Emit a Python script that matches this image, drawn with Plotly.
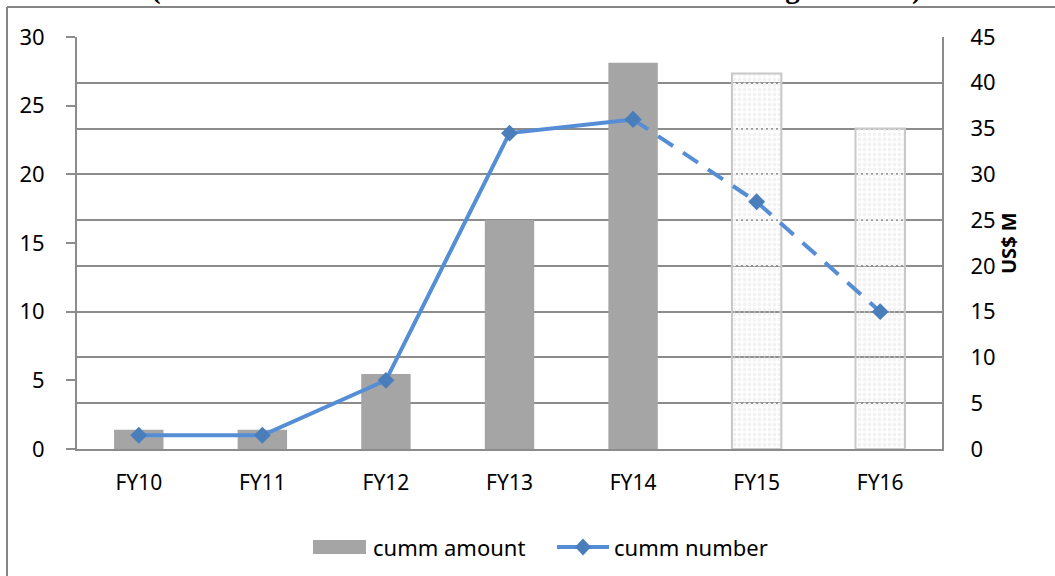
import plotly.graph_objects as go

categories = ["FY10", "FY11", "FY12", "FY13", "FY14", "FY15", "FY16"]
cumm_amount = [2.1, 2.1, 8.2, 25.0, 42.2, 41.0, 35.0]   # US$ M (right axis)
cumm_number = [1, 1, 5, 23, 24, 18, 10]                  # number (left axis)
projected = [False, False, False, False, False, True, True]

left_ticks = [0, 5, 10, 15, 20, 25, 30]
right_ticks = [0, 5, 10, 15, 20, 25, 30, 35, 40, 45]

GRID = "#8C8C8C"
BAR = "#A5A5A5"
LINE = "#558ED5"
MARK = "#4A7EBB"
FONT = "Noto Sans"

W, H = 1055, 576
L, R, T, B = 77, 942, 37, 449   # plot area in pixels


def px(x):
    return (x - L) / (R - L)


def py(y):
    return (B - y) / (B - T)


bar_colors = ["#F2F2F2" if p else BAR for p in projected]
bar_shapes = ["." if p else "" for p in projected]
bar_line_colors = ["#C8C8C8" if p else BAR for p in projected]
bar_line_widths = [2 if p else 0 for p in projected]

fig = go.Figure()

fig.add_trace(go.Bar(
    x=categories, y=cumm_amount, name="cumm amount", yaxis="y",
    width=0.4,
    marker=dict(
        color=bar_colors,
        line=dict(color=bar_line_colors, width=bar_line_widths),
        pattern=dict(shape=bar_shapes, fgcolor="#A0A0A0", bgcolor="#F5F5F5",
                     size=5, solidity=0.45, fillmode="replace"),
    ),
))

actual_x = categories[:5]
actual_y = cumm_number[:5]
proj_x = categories[4:]
proj_y = cumm_number[4:]

fig.add_trace(go.Scatter(
    x=actual_x, y=actual_y, name="cumm number", yaxis="y2",
    mode="lines+markers",
    line=dict(color=LINE, width=4),
    marker=dict(symbol="diamond", size=13, color=MARK),
))
fig.add_trace(go.Scatter(
    x=proj_x, y=proj_y, name="cumm number (projected)", yaxis="y2",
    mode="lines+markers",
    line=dict(color=LINE, width=4, dash="18px,12px"),
    marker=dict(symbol="diamond", size=13, color=MARK),
))

fig.update_layout(
    template="none",
    width=W, height=H,
    margin=dict(l=L, r=W - R, t=T, b=H - B, autoexpand=False),
    paper_bgcolor="white", plot_bgcolor="white",
    font=dict(family=FONT, size=22, color="black"),
    showlegend=False,
    xaxis=dict(
        type="category", showgrid=False, showline=True, linecolor=GRID, linewidth=2,
        ticks="", ticklabelstandoff=14, tickfont=dict(size=21), automargin=False,
        zeroline=False,
    ),
    yaxis=dict(
        side="right", range=[0, 45], tickvals=right_ticks,
        showgrid=True, gridcolor=GRID, gridwidth=1.5,
        showline=True, linecolor=GRID, linewidth=2,
        ticks="", ticklabelstandoff=22, zeroline=False, automargin=False,
    ),
    yaxis2=dict(
        side="left", overlaying="y", range=[0, 30], tickvals=left_ticks,
        showgrid=False, showline=True, linecolor=GRID, linewidth=2,
        ticks="outside", ticklen=9, tickcolor=GRID, tickwidth=2,
        ticklabelstandoff=17, zeroline=False, automargin=False,
    ),
)

# right axis title
fig.add_annotation(
    text="<b>US$ M</b>", textangle=-90, xref="paper", yref="paper",
    x=px(1008), y=0.5, xanchor="center", yanchor="middle",
    showarrow=False, font=dict(family=FONT, size=20, color="black"),
)

# chart title (cut off at the top of the picture)
fig.add_annotation(
    text="<b>(cum. amount in US$ million and number of RAS agreements)</b>",
    xref="paper", yref="paper",
    x=px(536), y=py(7), xanchor="center", yanchor="bottom",
    showarrow=False, font=dict(family="Liberation Serif", size=29, color="black"),
)

# outer chart frame (left and top edges visible)
fig.add_shape(type="line", xref="paper", yref="paper",
              x0=px(7), x1=px(7), y0=py(600), y1=py(7),
              line=dict(color="#868686", width=2))
fig.add_shape(type="line", xref="paper", yref="paper",
              x0=px(7), x1=px(1070), y0=py(7), y1=py(7),
              line=dict(color="#868686", width=2))

# legend (drawn to match the reference's wide swatches)
LEG_Y = 547
fig.add_shape(type="rect", xref="paper", yref="paper",
              x0=px(313), x1=px(366), y0=py(LEG_Y + 7), y1=py(LEG_Y - 7),
              fillcolor=BAR, line=dict(width=0))
fig.add_annotation(text="cumm amount", xref="paper", yref="paper",
                   x=px(371), y=py(LEG_Y), xanchor="left", yanchor="middle",
                   showarrow=False, font=dict(family=FONT, size=22, color="black"))
fig.add_shape(type="line", xref="paper", yref="paper",
              x0=px(557), x1=px(609), y0=py(LEG_Y), y1=py(LEG_Y),
              line=dict(color=LINE, width=4))
cx, cy, hw, hh = 583, LEG_Y, 8, 8.5
diamond = (f"M {px(cx - hw)},{py(cy)} L {px(cx)},{py(cy - hh)} "
           f"L {px(cx + hw)},{py(cy)} L {px(cx)},{py(cy + hh)} Z")
fig.add_shape(type="path", xref="paper", yref="paper", path=diamond,
              fillcolor=MARK, line=dict(width=0))
fig.add_annotation(text="cumm number", xref="paper", yref="paper",
                   x=px(612), y=py(LEG_Y), xanchor="left", yanchor="middle",
                   showarrow=False, font=dict(family=FONT, size=22, color="black"))

fig.write_html("out.html", post_script="document.body.style.margin='0';",
               config={"displayModeBar": False})
